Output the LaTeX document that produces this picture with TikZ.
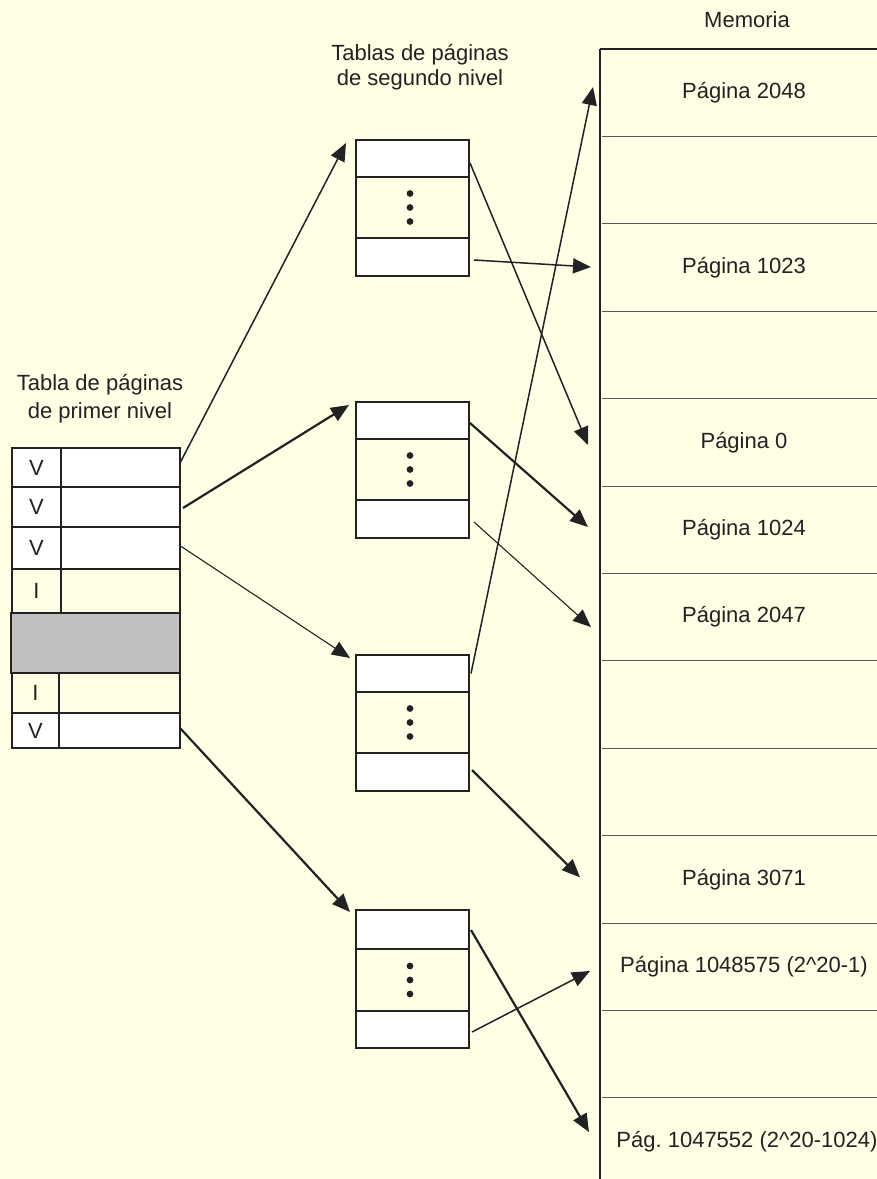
\documentclass[tikz,border=0pt]{standalone}
\usepackage{fontspec}
\setmainfont{Liberation Sans}
\usetikzlibrary{arrows.meta,calc}
\definecolor{bg}{HTML}{FFFFE6}
\definecolor{ink}{HTML}{222222}
\definecolor{rowline}{HTML}{555555}
\definecolor{shade}{HTML}{C0C0C0}
\begin{document}
\begin{tikzpicture}[x=1pt,y=-1pt,
  font=\fontsize{22}{26}\selectfont, text=ink,
  cell/.style={draw=ink, line width=1.2pt, inner sep=0pt, outer sep=0pt},
  wcell/.style={cell, fill=white},
  ycell/.style={cell, fill=bg},
  sltab/.style={minimum width=113pt},
  mem/.style={inner sep=0pt, outer sep=0pt, minimum width=288pt, minimum height=87.4pt},
  arrbase/.style={draw=ink, -{Triangle[length=18pt,width=15pt]}},
  arrthin/.style={arrbase, line width=1.1pt},
  arrmid/.style={arrbase, line width=1.5pt},
  arrthick/.style={arrbase, line width=2.2pt},
  dot/.style={fill=ink}
]
\useasboundingbox (0,0) rectangle (877,1179);
\fill[bg] (0,0) rectangle (877,1179);
\begin{scope}
\clip (0,0) rectangle (877,1179);

% ---------- Memory ----------
\node at (747,20) (memtitle) {Memoria};
\node[mem] (m1)  at (744,92.7)  {Página 2048};
\node[mem] (m2)  at (744,180.1) {};
\node[mem] (m3)  at (744,267.5) {Página 1023};
\node[mem] (m4)  at (744,354.9) {};
\node[mem] (m5)  at (744,442.3) {Página 0};
\node[mem] (m6)  at (744,529.7) {Página 1024};
\node[mem] (m7)  at (744,617.1) {Página 2047};
\node[mem] (m8)  at (744,704.5) {};
\node[mem] (m9)  at (744,791.9) {};
\node[mem] (m10) at (744,879.3) {Página 3071};
\node[mem] (m11) at (744,966.7) {Página 1048575 (2\textasciicircum20-1)};
\node[mem] (m12) at (744,1054.1) {};
\node[mem] (m13) at (744,1141.5) {\hspace*{6pt}Pág.\ 1047552 (2\textasciicircum20-1024)};
\foreach \i in {2,...,13}
  \draw[rowline, line width=1pt] ($(m\i.north west)+(2,0)$) -- ++(300,0);
\draw[ink, line width=1.2pt] (m1.north west) -- ++(300,0);
\draw[ink, line width=1.6pt] (m1.north west) -- (600,1190);

% ---------- First level table ----------
\node (ft1) at (100,385) {Tabla de páginas};
\node (ft2) at (100,413) {de primer nivel};

\node[wcell, minimum width=49pt, minimum height=39pt]  (r1a) at (36.5,467.5) {V};
\node[wcell, minimum width=119pt, minimum height=39pt] (r1b) at (120.5,467.5) {};
\node[wcell, minimum width=49pt, minimum height=40pt]  (r2a) at (36.5,507) {V};
\node[wcell, minimum width=119pt, minimum height=40pt] (r2b) at (120.5,507) {};
\node[wcell, minimum width=49pt, minimum height=42pt]  (r3a) at (36.5,548) {V};
\node[wcell, minimum width=119pt, minimum height=42pt] (r3b) at (120.5,548) {};
\node[ycell, minimum width=49pt, minimum height=44pt]  (r4a) at (36.5,591) {I};
\node[ycell, minimum width=119pt, minimum height=44pt] (r4b) at (120.5,591) {};
\node[ycell, minimum width=47pt, minimum height=40pt]  (r6a) at (35.5,693) {I};
\node[ycell, minimum width=121pt, minimum height=40pt] (r6b) at (119.5,693) {};
\node[wcell, minimum width=47pt, minimum height=35pt]  (r7a) at (35.5,730.5) {V};
\node[wcell, minimum width=121pt, minimum height=35pt] (r7b) at (119.5,730.5) {};
\node[cell, fill=shade, minimum width=169pt, minimum height=60pt] (gap) at (95.5,643) {};

% ---------- Second level tables ----------
\node (st1) at (420,55) {Tablas de páginas};
\node (st2) at (420,80) {de segundo nivel};

\node[wcell, sltab, minimum height=37pt] (t1a) at (412.5,158.5) {};
\node[ycell, sltab, minimum height=61pt] (t1b) at (412.5,207.5) {};
\node[wcell, sltab, minimum height=38pt] (t1c) at (412.5,257) {};

\node[wcell, sltab, minimum height=37pt] (t2a) at (412.5,420.5) {};
\node[ycell, sltab, minimum height=61pt] (t2b) at (412.5,469.5) {};
\node[wcell, sltab, minimum height=38pt] (t2c) at (412.5,519) {};

\node[wcell, sltab, minimum height=37pt] (t3a) at (412.5,673.5) {};
\node[ycell, sltab, minimum height=61pt] (t3b) at (412.5,722.5) {};
\node[wcell, sltab, minimum height=38pt] (t3c) at (412.5,772) {};

\node[wcell, sltab, minimum height=39pt] (t4a) at (412.5,929.5) {};
\node[ycell, sltab, minimum height=62pt] (t4b) at (412.5,980) {};
\node[wcell, sltab, minimum height=37pt] (t4c) at (412.5,1029.5) {};

\foreach \t in {t1b,t2b,t3b,t4b}{
  \fill[dot] ($(\t.center)+(-2.5,-14)$) circle (3.4);
  \fill[dot] ($(\t.center)+(-2.5,0)$) circle (3.4);
  \fill[dot] ($(\t.center)+(-2.5,14)$) circle (3.4);
}

% ---------- Arrows: first level -> second level ----------
\draw[arrmid]   ($(r1b.east)+(0,-4.5)$) -- ($(t1a.north west)+(-10,3)$);
\draw[arrthick] ($(r2b.east)+(3,1)$)    -- ($(t2a.north west)+(-7,3)$);
\draw[arrthin]  ($(r3b.east)+(-1,-3)$)  -- ($(t3a.north west)+(-6,3)$);
\draw[arrthick] ($(r7b.east)+(0,-2.5)$) -- ($(t4a.north west)+(-6,2)$);

% ---------- Arrows: second level -> memory ----------
\draw[arrmid]   ($(t1a.east)+(1,4.5)$)  -- ($(m5.west)+(-12,2.7)$);
\draw[arrmid]   ($(t1c.east)+(5,3)$)    -- ($(m3.west)+(-9,-0.5)$);
\draw[arrthick] ($(t2a.east)+(1,2.5)$)  -- ($(m6.west)+(-12,-2.7)$);
\draw[arrthin]  ($(t2c.east)+(5,3)$)    -- ($(m7.west)+(-9,10)$);
\draw[arrmid]   ($(t3a.east)+(2,0)$)    -- ($(m1.west)+(-7,-5.7)$);
\draw[arrthick] ($(t3c.east)+(3,-2)$)   -- ($(m10.west)+(-20,-2)$);
\draw[arrthick] ($(t4a.east)+(2,0.5)$)  -- ($(m13.west)+(-11,-9.5)$);
\draw[arrmid]   ($(t4c.east)+(3,2.5)$)  -- ($(m11.west)+(-10,4.3)$);
\end{scope}
\end{tikzpicture}
\end{document}
